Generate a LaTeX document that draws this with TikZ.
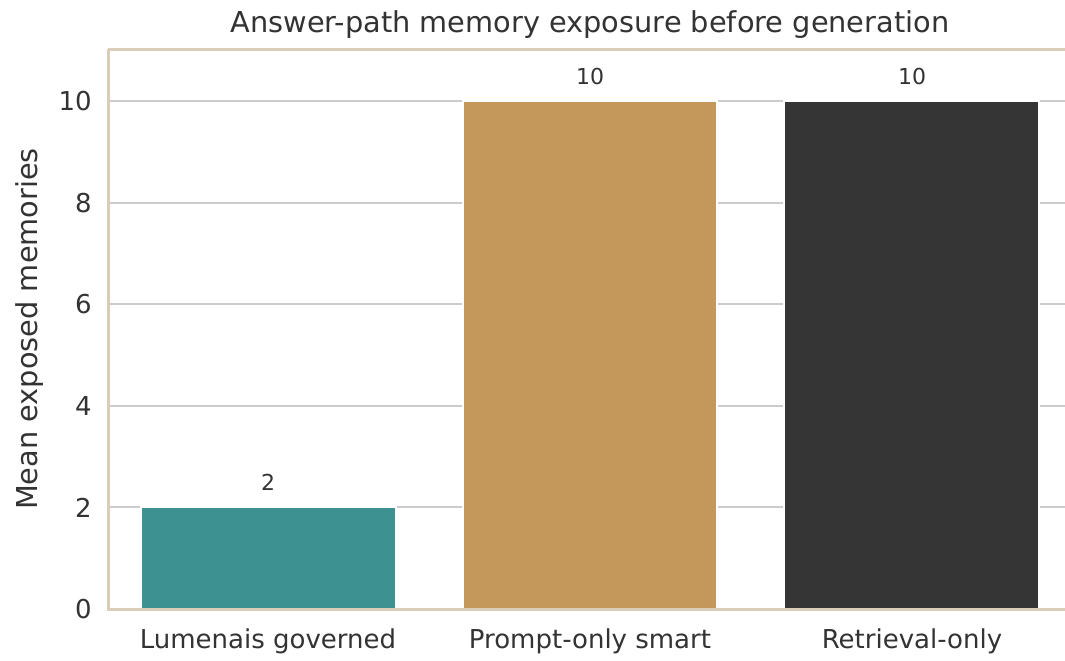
\documentclass[tikz,border=0pt]{standalone}
\usepackage{fontspec}
\setmainfont{DejaVu Sans}
\usepackage{xcolor}
\usetikzlibrary{positioning}
\definecolor{txt}{HTML}{333333}
\definecolor{spine}{HTML}{D9CDBA}
\definecolor{grid}{HTML}{CCCCCC}
\definecolor{teal}{HTML}{3D9190}
\definecolor{tan}{HTML}{C4975A}
\definecolor{dark}{HTML}{353535}

\begin{document}
\begin{tikzpicture}[
    x=0.5pt, y=-0.5pt,
    bar/.style={draw=white, line width=1pt},
    gridline/.style={draw=grid, line width=1pt},
    spineline/.style={draw=spine, line width=1.5pt},
    ticklabel/.style={text=txt, font=\fontsize{13}{15}\selectfont, inner sep=0pt},
    axislabel/.style={text=txt, font=\fontsize{14.4}{17}\selectfont, inner sep=0pt},
    barlabel/.style={text=txt, font=\fontsize{11}{13}\selectfont, inner sep=0pt},
]
\useasboundingbox[fill=white] (0,0) rectangle (1065,660);

% grid and y ticks
\foreach \v in {0,2,...,10} {
  \draw[gridline] (109,{609-50.8*\v}) -- (1065,{609-50.8*\v});
  \node[ticklabel, anchor=east] (ytick\v) at (92,{609-50.8*\v}) {\v};
}

% bars
\fill[teal, bar] (141,609) rectangle (396,{609-50.8*2});
\fill[tan, bar] (463,609) rectangle (717,{609-50.8*10});
\fill[dark, bar] (784,609) rectangle (1039,{609-50.8*10});

% spines
\draw[spineline] (108,49) -- (108,609) -- (1065,609);
\draw[spineline] (108,49) -- (1065,49);

% value labels
\node[barlabel] (val1) at (268,482) {2};
\node[barlabel] (val2) at (590,76) {10};
\node[barlabel] (val3) at (912,76) {10};

% x labels
\node[ticklabel] (cat1) at (268,641) {Lumenais governed};
\node[ticklabel] (cat2) at (590,641) {Prompt-only smart};
\node[ticklabel] (cat3) at (912,641) {Retrieval-only};

% axis label and title
\node[axislabel, rotate=90] (ylab) at (30,329) {Mean exposed memories};
\node[axislabel] (title) at (590,25) {Answer-path memory exposure before generation};
\end{tikzpicture}
\end{document}
